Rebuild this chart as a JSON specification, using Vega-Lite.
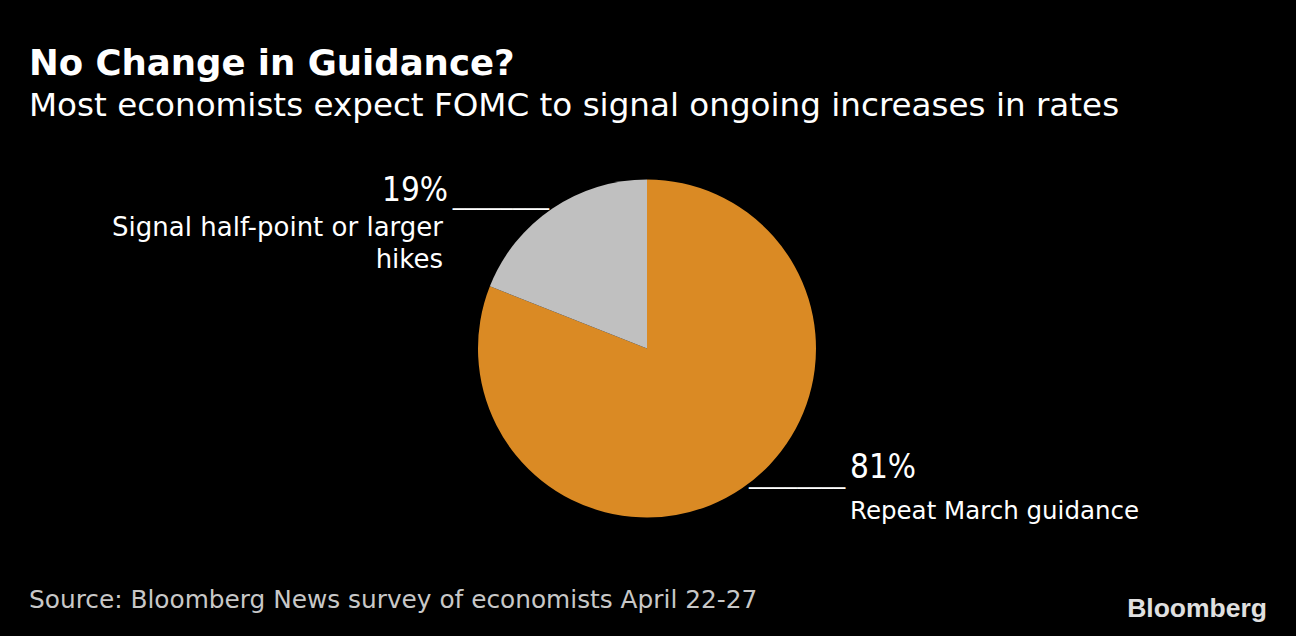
{
  "$schema": "https://vega.github.io/schema/vega-lite/v6.json",
  "width": 1294,
  "height": 437,
  "autosize": {"type": "none"},
  "padding": {"left": 0, "right": 2, "top": 130, "bottom": 69},
  "background": "#000000",
  "config": {"view": {"stroke": null}},
  "title": {
    "text": "No Change in Guidance?",
    "subtitle": "Most economists expect FOMC to signal ongoing increases in rates",
    "anchor": "start",
    "frame": "group",
    "dx": 29,
    "offset": 7,
    "font": "DejaVu Sans",
    "fontSize": 35.5,
    "fontWeight": "bold",
    "color": "#ffffff",
    "subtitleFont": "DejaVu Sans",
    "subtitleFontSize": 32.6,
    "subtitleColor": "#ffffff",
    "subtitlePadding": 8
  },
  "data": {
    "values": [
      {"label": "Repeat March guidance", "share": 81, "pct": "81%"},
      {"label": "Signal half-point or larger\nhikes", "share": 19, "pct": "19%"}
    ]
  },
  "layer": [
    {
      "mark": {"type": "arc", "outerRadius": 169, "stroke": null},
      "encoding": {
        "theta": {"field": "share", "type": "quantitative", "stack": true},
        "color": {
          "field": "label",
          "type": "nominal",
          "scale": {"domain": ["Repeat March guidance", "Signal half-point or larger\nhikes"], "range": ["#DA8A24", "#C0C0C0"]},
          "legend": null
        },
        "order": {"field": "label", "sort": "ascending"}
      }
    },
    {
      "mark": {
        "type": "text",
        "radius": 169,
        "font": "DejaVu Sans",
        "fontSize": 20,
        "baseline": "middle",
        "color": "#ffffff",
        "align": {"expr": "datum.share < 50 ? 'right' : 'left'"},
        "dx": {"expr": "datum.share < 50 ? -3 : 7"},
        "dy": 1
      },
      "encoding": {
        "theta": {"field": "share", "type": "quantitative", "stack": true},
        "detail": {"field": "label", "type": "nominal"},
        "order": {"field": "label", "sort": "ascending"},
        "text": {"value": "────────"}
      }
    },
    {
      "mark": {
        "type": "text",
        "radius": 169,
        "font": "DejaVu Sans Condensed, DejaVu Sans",
        "fontSize": 33,
        "baseline": "alphabetic",
        "color": "#ffffff",
        "align": {"expr": "datum.share < 50 ? 'right' : 'left'"},
        "dx": {"expr": "datum.share < 50 ? -104 : 108"},
        "dy": {"expr": "datum.share < 50 ? -8 : -10"}
      },
      "encoding": {
        "theta": {"field": "share", "type": "quantitative", "stack": true},
        "detail": {"field": "label", "type": "nominal"},
        "order": {"field": "label", "sort": "ascending"},
        "text": {"field": "pct", "type": "nominal"}
      }
    },
    {
      "mark": {
        "type": "text",
        "radius": 169,
        "font": "DejaVu Sans",
        "fontSize": {"expr": "datum.share < 50 ? 26 : 24.5"},
        "baseline": "alphabetic",
        "lineBreak": "\n",
        "lineHeight": 32,
        "color": "#ffffff",
        "align": {"expr": "datum.share < 50 ? 'right' : 'left'"},
        "dx": {"expr": "datum.share < 50 ? -109 : 108"},
        "dy": {"expr": "datum.share < 50 ? 27 : 31"}
      },
      "encoding": {
        "theta": {"field": "share", "type": "quantitative", "stack": true},
        "detail": {"field": "label", "type": "nominal"},
        "order": {"field": "label", "sort": "ascending"},
        "text": {"field": "label", "type": "nominal"}
      }
    },
    {
      "data": {"values": [{"note": "Source: Bloomberg News survey of economists April 22-27"}]},
      "mark": {
        "type": "text",
        "x": 29,
        "y": {"expr": "height + 41"},
        "align": "left",
        "baseline": "alphabetic",
        "font": "DejaVu Sans",
        "fontSize": 24.8,
        "color": "#C8C8C8"
      },
      "encoding": {"text": {"field": "note", "type": "nominal"}}
    },
    {
      "data": {"values": [{"brand": "Bloomberg"}]},
      "mark": {
        "type": "text",
        "x": {"expr": "width - 27"},
        "y": {"expr": "height + 50"},
        "align": "right",
        "baseline": "alphabetic",
        "font": "Liberation Sans",
        "fontWeight": "bold",
        "fontSize": 26.5,
        "color": "#E0E0E0"
      },
      "encoding": {"text": {"field": "brand", "type": "nominal"}}
    }
  ]
}
